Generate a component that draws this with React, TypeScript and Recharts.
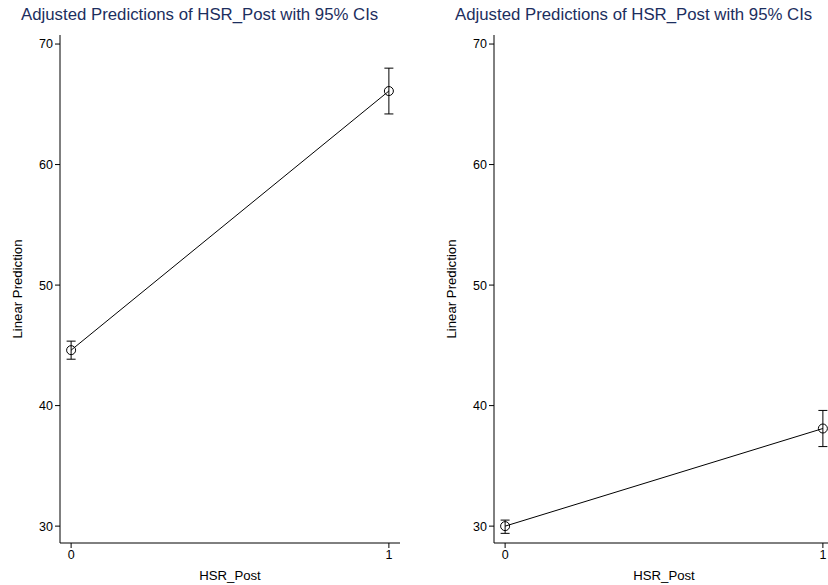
import { LineChart, Line, XAxis, YAxis, ErrorBar } from "recharts";

const FONT = "'Liberation Sans', Arial, sans-serif";
const TITLE = "Adjusted Predictions of HSR_Post with 95% CIs";

// HSR_Post levels
const levels = [0, 1];
// left panel: margin, lower bound, upper bound
const leftFit = [44.6, 66.1];
const leftLo = [43.85, 64.2];
const leftHi = [45.35, 68.0];
// right panel
const rightFit = [30.0, 38.1];
const rightLo = [29.4, 36.6];
const rightHi = [30.5, 39.6];

const yTicks = [30, 40, 50, 60, 70];
const xTicks = [0, 1];

function buildRows(fit: number[], lo: number[], hi: number[]) {
  return levels.map((x, i) => ({ x, y: fit[i], err: [fit[i] - lo[i], hi[i] - fit[i]] }));
}

function Panel({ left, fit, lo, hi }: { left: number; fit: number[]; lo: number[]; hi: number[] }) {
  const rows = buildRows(fit, lo, hi);
  const tick = { fill: "#000", fontSize: 12.5, fontFamily: FONT };
  return (
    <div style={{ position: "absolute", left, top: 0, width: 414, height: 585 }}>
      <div style={{ position: "absolute", left: 21, top: 5, fontFamily: FONT, fontSize: 16.8, color: "#1c2e5e", whiteSpace: "nowrap" }}>
        {TITLE}
      </div>
      <div
        style={{
          position: "absolute", left: 17, top: 289, fontFamily: FONT, fontSize: 13.2, color: "#000",
          transform: "translate(-50%, -50%) rotate(-90deg)", whiteSpace: "nowrap",
        }}
      >
        Linear Prediction
      </div>
      <div style={{ position: "absolute", left: 230, top: 575, fontFamily: FONT, fontSize: 13.2, lineHeight: "15px", color: "#000", transform: "translate(-50%, -50%)", whiteSpace: "nowrap" }}>
        HSR_Post
      </div>
      <LineChart width={414} height={585} data={rows} margin={{ top: 35, right: 14, bottom: 0, left: 0 }}>
        <XAxis
          dataKey="x" type="number" domain={[-0.035, 1.035]} ticks={xTicks} allowDataOverflow
          height={42} stroke="#000" tickSize={5} tick={tick} tickLine={{ stroke: "#000" }}
        />
        <YAxis
          type="number" domain={[28.6, 70.75]} ticks={yTicks} allowDataOverflow
          width={60} stroke="#000" tickSize={5} tick={tick} tickLine={{ stroke: "#000" }}
        />
        <Line
          dataKey="y" stroke="#000" strokeWidth={1} isAnimationActive={false}
          dot={{ r: 4.5, stroke: "#000", strokeWidth: 1, fill: "none" }} activeDot={false}
        >
          <ErrorBar dataKey="err" width={4.5} stroke="#000" strokeWidth={1} direction="y" />
        </Line>
      </LineChart>
    </div>
  );
}

export default function App() {
  return (
    <div style={{ position: "absolute", left: 0, top: 0, width: 828, height: 585, overflow: "hidden", background: "#fff" }}>
      <Panel left={0} fit={leftFit} lo={leftLo} hi={leftHi} />
      <Panel left={434} fit={rightFit} lo={rightLo} hi={rightHi} />
    </div>
  );
}
